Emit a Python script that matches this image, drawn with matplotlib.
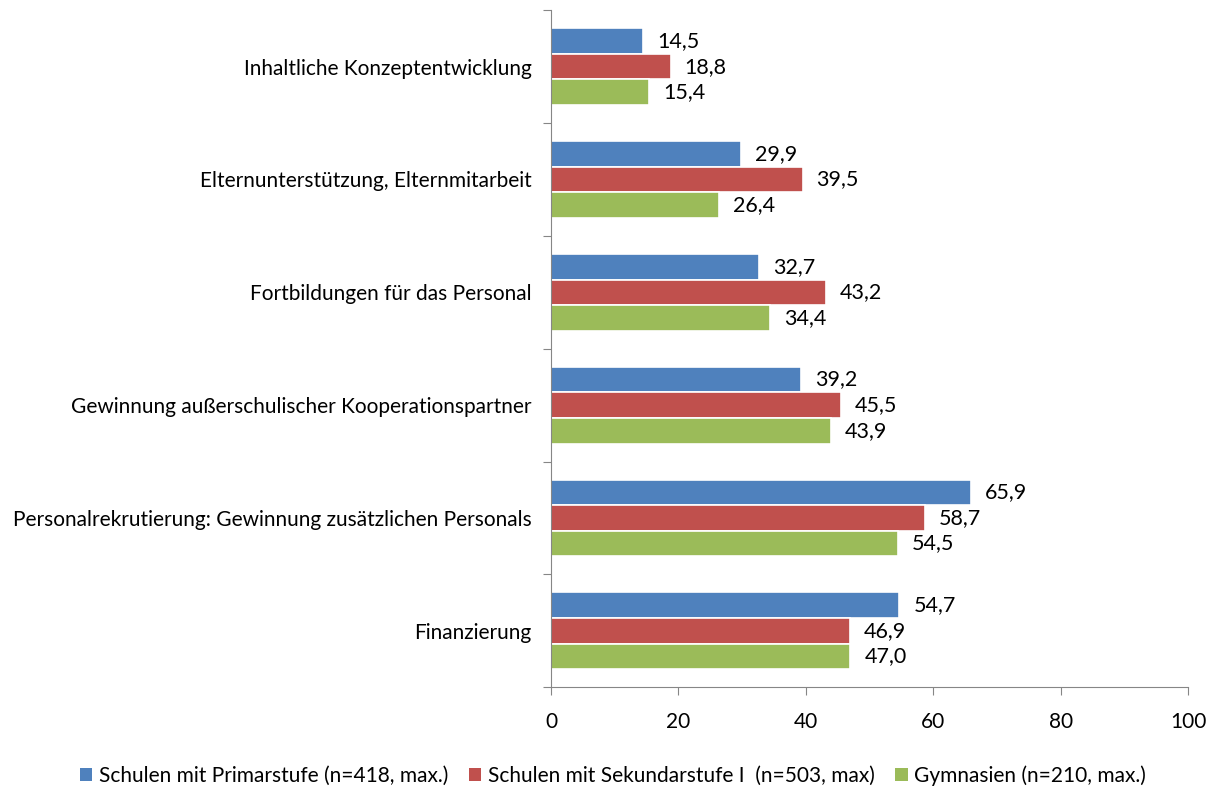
import numpy as np
import matplotlib.pyplot as plt
from matplotlib.ticker import FixedLocator, NullFormatter
from matplotlib.patches import Patch

plt.rcParams['font.family'] = ['Lato', 'DejaVu Sans']

categories = [
    "Inhaltliche Konzeptentwicklung",
    "Elternunterstützung, Elternmitarbeit",
    "Fortbildungen für das Personal",
    "Gewinnung außerschulischer Kooperationspartner",
    "Personalrekrutierung: Gewinnung zusätzlichen Personals",
    "Finanzierung",
]
primar = [14.5, 29.9, 32.7, 39.2, 65.9, 54.7]
sekundar = [18.8, 39.5, 43.2, 45.5, 58.7, 46.9]
gymnasien = [15.4, 26.4, 34.4, 43.9, 54.5, 47.0]
series_names = [
    "Schulen mit Primarstufe (n=418, max.)",
    "Schulen mit Sekundarstufe I  (n=503, max)",
    "Gymnasien (n=210, max.)",
]
colors = ["#4f81bd", "#c0504d", "#9bbb59"]

fig = plt.figure(figsize=(12.26, 7.89), dpi=100)
ax = fig.add_axes([0.4494, 0.129, 0.5196, 0.858])

n = len(categories)
y = np.arange(n)  # 0 at top after inversion
h = 0.227
fs = 15

for k, (vals, col) in enumerate(zip([primar, sekundar, gymnasien], colors)):
    pos = y + (k - 1) * h
    ax.barh(pos, vals, height=h, color=col, edgecolor='white', linewidth=1.2)
    for p, v in zip(pos, vals):
        ax.text(v + 2.2, p, f"{v:.1f}".replace('.', ','), va='center',
                ha='left', fontsize=15.5, color='black')

ax.set_ylim(n - 0.5, -0.5)
ax.set_xlim(0, 100)
ax.set_xticks([0, 20, 40, 60, 80, 100])
ax.tick_params(axis='x', labelsize=fs, length=6, color='#868686', direction='out', pad=12)

ax.yaxis.set_major_locator(FixedLocator(np.arange(-0.5, n, 1.0)))
ax.yaxis.set_major_formatter(NullFormatter())
ax.tick_params(axis='y', which='major', length=6, color='#868686', direction='out')
ax.yaxis.set_minor_locator(FixedLocator(y))
ax.set_yticklabels(categories, minor=True)
ax.tick_params(axis='y', which='minor', length=0, labelsize=fs, pad=14)

for s in ['top', 'right']:
    ax.spines[s].set_visible(False)
for s in ['left', 'bottom']:
    ax.spines[s].set_color('#868686')

handles = [Patch(facecolor=c, edgecolor='none') for c in colors]
fig.legend(handles, series_names, loc='center', bbox_to_anchor=(0.5, 0.017),
           ncol=3, frameon=False, fontsize=fs, handlelength=0.6, handleheight=0.6,
           handletextpad=0.3, columnspacing=1.0)

fig.savefig('out.png', dpi=100)
